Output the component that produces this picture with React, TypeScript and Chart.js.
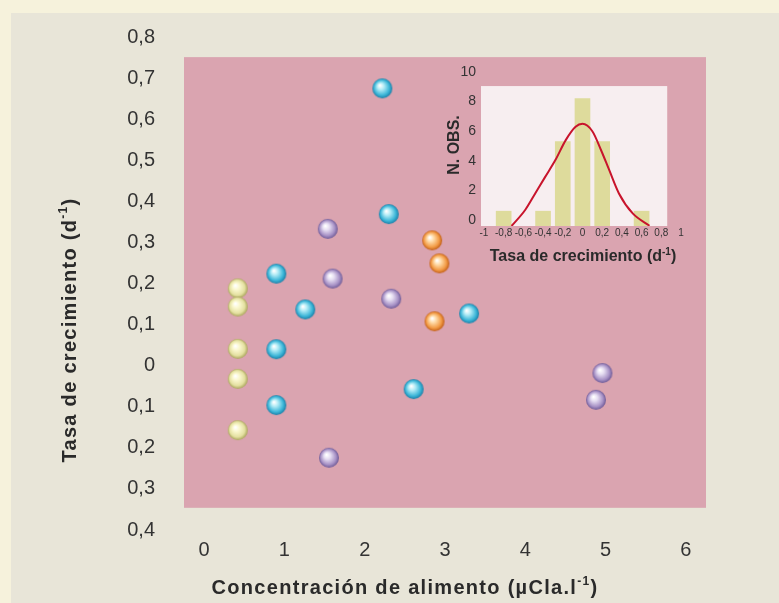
import React, { useEffect, useRef } from 'react';
import { Chart, registerables } from 'chart.js';
Chart.register(...registerables);

// ---- main chart data ----
const X_TICKS = [0, 1, 2, 3, 4, 5, 6];
const Y_TICKS = [-0.4, -0.3, -0.2, -0.1, 0, 0.1, 0.2, 0.3, 0.4, 0.5, 0.6, 0.7, 0.8];
const Y_TICK_LABELS = ['0,4', '0,3', '0,2', '0,1', '0', '0,1', '0,2', '0,3', '0,4', '0,5', '0,6', '0,7', '0,8'];

const YELLOW_X = [0.42, 0.42, 0.42, 0.42, 0.42];
const YELLOW_Y = [0.188, 0.144, 0.041, -0.032, -0.157];
const BLUE_X = [0.9, 1.26, 0.9, 0.9, 2.22, 2.3, 3.3, 2.61];
const BLUE_Y = [0.224, 0.137, 0.04, -0.096, 0.675, 0.369, 0.127, -0.057];
const PURPLE_X = [1.54, 1.6, 2.33, 1.555, 4.96, 4.88];
const PURPLE_Y = [0.333, 0.212, 0.163, -0.224, -0.018, -0.083];
const ORANGE_X = [2.84, 2.93, 2.87];
const ORANGE_Y = [0.305, 0.249, 0.108];

// plot panel extent (data units)
const PANEL_X = [-0.25, 6.25];
const PANEL_Y = [-0.346, 0.751];

// ---- inset histogram data ----
const HIST_BINS = [-0.8, -0.4, -0.2, 0, 0.2, 0.6];
const HIST_COUNTS = [0.6, 0.6, 5.3, 8.2, 5.3, 0.6];
const CURVE_X = [-0.72, -0.58, -0.48, -0.38, -0.275, -0.17, -0.07, 0, 0.1, 0.19, 0.27, 0.37, 0.51, 0.68];
const CURVE_Y = [-0.4, 0.7, 1.8, 2.9, 4.05, 5.4, 6.3, 6.5, 6.0, 4.7, 3.4, 1.8, 0.45, -0.38];
const INSET_X_TICKS = [-1, -0.8, -0.6, -0.4, -0.2, 0, 0.2, 0.4, 0.6, 0.8, 1];
const INSET_X_LABELS = ['-1', '-0,8', '-0,6', '-0,4', '-0,2', '0', '0,2', '0,4', '0,6', '0,8', '1'];
const INSET_Y_TICKS = [0, 2, 4, 6, 8, 10];
const INSET_PANEL_X = [-1.03, 0.86];
const INSET_PANEL_Y = [-0.4, 9.05];

const FONT = "'Liberation Sans', Arial, Helvetica, sans-serif";

function sphere(light: string, base: string, dark: string, size = 20) {
  const c = document.createElement('canvas');
  c.width = size + 2;
  c.height = size + 2;
  const g = c.getContext('2d')!;
  const r = size / 2;
  const cx = c.width / 2, cy = c.height / 2;
  const grad = g.createRadialGradient(cx - r * 0.25, cy - r * 0.3, r * 0.05, cx, cy, r);
  grad.addColorStop(0, '#ffffff');
  grad.addColorStop(0.3, light);
  grad.addColorStop(0.75, base);
  grad.addColorStop(1, dark);
  g.fillStyle = grad;
  g.beginPath();
  g.arc(cx, cy, r, 0, Math.PI * 2);
  g.fill();
  return c;
}

type Part = { t: string; sup?: boolean };
function drawRich(ctx: CanvasRenderingContext2D, parts: Part[], cx: number, cy: number, size: number, rotate: boolean, spacing = 0) {
  ctx.save();
  ctx.translate(cx, cy);
  if (rotate) ctx.rotate(-Math.PI / 2);
  ctx.fillStyle = '#2a2a2a';
  ctx.textBaseline = 'middle';
  ctx.textAlign = 'left';
  (ctx as any).letterSpacing = `${spacing}px`;
  const widths = parts.map((p) => {
    ctx.font = `bold ${p.sup ? Math.round(size * 0.6) : size}px ${FONT}`;
    return ctx.measureText(p.t).width;
  });
  const total = widths.reduce((a, b) => a + b, 0);
  let x = -total / 2;
  parts.forEach((p, i) => {
    ctx.font = `bold ${p.sup ? Math.round(size * 0.6) : size}px ${FONT}`;
    ctx.fillText(p.t, x, p.sup ? -size * 0.32 : 0);
    x += widths[i];
  });
  ctx.restore();
}

const toPts = (xs: number[], ys: number[]) => xs.map((x, i) => ({ x, y: ys[i] }));

export default function App() {
  const mainRef = useRef<HTMLCanvasElement>(null);
  const insetRef = useRef<HTMLCanvasElement>(null);

  useEffect(() => {
    const yellow = sphere('#fbf8d0', '#e4e0a0', '#a8a45a');
    const blue = sphere('#b4ecf6', '#3cb6d8', '#1c7ea6');
    const purple = sphere('#e6def2', '#a892c6', '#6e5a96');
    const orange = sphere('#ffdcaa', '#f29a44', '#c05e18');

    const mainBg = {
      id: 'mainBg',
      beforeDraw(chart: any) {
        const { ctx, scales } = chart;
        ctx.save();
        ctx.fillStyle = '#f6f2dc';
        ctx.fillRect(0, 0, chart.width, chart.height);
        ctx.fillStyle = '#e8e5d8';
        ctx.fillRect(11, 13, chart.width - 11, chart.height - 13);
        const x0 = scales.x.getPixelForValue(PANEL_X[0]);
        const x1 = scales.x.getPixelForValue(PANEL_X[1]);
        const y0 = scales.y.getPixelForValue(PANEL_Y[1]);
        const y1 = scales.y.getPixelForValue(PANEL_Y[0]);
        ctx.fillStyle = '#daa4b0';
        ctx.fillRect(x0, y0, x1 - x0, y1 - y0);
        ctx.restore();
      },
      afterDraw(chart: any) {
        const { ctx } = chart;
        drawRich(ctx, [{ t: 'Concentración de alimento (µCla.l' }, { t: '-1', sup: true }, { t: ')' }], 405, 588, 20, false, 1.3);
        drawRich(ctx, [{ t: 'Tasa de crecimiento (d' }, { t: '-1', sup: true }, { t: ')' }], 70, 330, 20, true, 1.3);
      },
    };

    const main = new Chart(mainRef.current!, {
      type: 'scatter',
      data: {
        datasets: [
          { data: toPts(YELLOW_X, YELLOW_Y), pointStyle: yellow as any },
          { data: toPts(BLUE_X, BLUE_Y), pointStyle: blue as any },
          { data: toPts(PURPLE_X, PURPLE_Y), pointStyle: purple as any },
          { data: toPts(ORANGE_X, ORANGE_Y), pointStyle: orange as any },
        ],
      },
      options: {
        responsive: false,
        animation: false,
        devicePixelRatio: 1,
        layout: { padding: { left: 0, right: 73, top: 37, bottom: 0 } },
        plugins: { legend: { display: false }, tooltip: { enabled: false } },
        scales: {
          x: {
            type: 'linear',
            min: PANEL_X[0],
            max: PANEL_X[1],
            afterBuildTicks: (s: any) => { s.ticks = X_TICKS.map((v) => ({ value: v })); },
            afterFit: (s: any) => { s.height = 73; },
            grid: { display: false, drawTicks: false },
            border: { display: false },
            ticks: { font: { family: FONT, size: 20 }, color: '#333', padding: 8, maxRotation: 0, autoSkip: false, callback: (v: any) => String(v) },
          },
          y: {
            type: 'linear',
            min: Y_TICKS[0],
            max: Y_TICKS[Y_TICKS.length - 1],
            afterBuildTicks: (s: any) => { s.ticks = Y_TICKS.map((v) => ({ value: v })); },
            afterFit: (s: any) => { s.width = 184; },
            grid: { display: false, drawTicks: true, tickLength: 29 },
            border: { display: false },
            ticks: {
              font: { family: FONT, size: 20 },
              color: '#333',
              padding: 0,
              autoSkip: false,
              callback: (_v: any, i: number) => Y_TICK_LABELS[i],
            },
          },
        },
      },
      plugins: [mainBg],
    } as any);

    const insetBg = {
      id: 'insetBg',
      beforeDraw(chart: any) {
        const { ctx, scales } = chart;
        const x0 = scales.x.getPixelForValue(INSET_PANEL_X[0]);
        const x1 = scales.x.getPixelForValue(INSET_PANEL_X[1]);
        const y0 = scales.y.getPixelForValue(INSET_PANEL_Y[1]);
        const y1 = scales.y.getPixelForValue(INSET_PANEL_Y[0]);
        ctx.save();
        ctx.fillStyle = '#f7eef0';
        ctx.fillRect(x0, y0, x1 - x0, y1 - y0);
        ctx.restore();
      },
      afterDraw(chart: any) {
        const { ctx } = chart;
        drawRich(ctx, [{ t: 'Tasa de crecimiento (d' }, { t: '-1', sup: true }, { t: ')' }], 153, 201, 16, false, 0);
        drawRich(ctx, [{ t: 'N. OBS.' }], 25, 89, 16, true, 0);
      },
    };

    const inset = new Chart(insetRef.current!, {
      type: 'bar',
      data: {
        datasets: [
          {
            type: 'line',
            data: toPts(CURVE_X, CURVE_Y),
            borderColor: '#c8142c',
            borderWidth: 2,
            pointRadius: 0,
            tension: 0.4,
            cubicInterpolationMode: 'monotone',
            order: 1,
          },
          {
            type: 'bar',
            data: toPts(HIST_BINS, HIST_COUNTS),
            backgroundColor: '#dedb9c',
            base: INSET_PANEL_Y[0],
            barThickness: 15,
            order: 2,
          },
        ],
      },
      options: {
        responsive: false,
        animation: false,
        devicePixelRatio: 1,
        layout: { padding: { left: 0, right: 19, top: 16, bottom: 0 } },
        plugins: { legend: { display: false }, tooltip: { enabled: false } },
        scales: {
          x: {
            type: 'linear',
            offset: false,
            min: INSET_PANEL_X[0],
            max: 1,
            afterBuildTicks: (s: any) => { s.ticks = INSET_X_TICKS.map((v) => ({ value: v })); },
            afterFit: (s: any) => { s.height = 44; },
            grid: { display: false, drawTicks: false },
            border: { display: false },
            ticks: {
              font: { family: FONT, size: 10 },
              color: '#333',
              padding: 1,
              maxRotation: 0,
              autoSkip: false,
              callback: (_v: any, i: number) => INSET_X_LABELS[i],
            },
          },
          y: {
            type: 'linear',
            min: INSET_PANEL_Y[0],
            max: 10,
            afterBuildTicks: (s: any) => { s.ticks = INSET_Y_TICKS.map((v) => ({ value: v })); },
            afterFit: (s: any) => { s.width = 51; },
            grid: { display: false, drawTicks: false },
            border: { display: false },
            ticks: { font: { family: FONT, size: 14 }, color: '#333', padding: 5, autoSkip: false, callback: (v: any) => String(v) },
          },
        },
      },
      plugins: [insetBg],
    } as any);

    return () => {
      main.destroy();
      inset.destroy();
    };
  }, []);

  return (
    <div style={{ position: 'absolute', left: 0, top: 0, width: 779, height: 603 }}>
      <canvas ref={mainRef} width={779} height={603} style={{ position: 'absolute', left: 0, top: 0 }} />
      <canvas ref={insetRef} width={270} height={214} style={{ position: 'absolute', left: 430, top: 56 }} />
    </div>
  );
}
